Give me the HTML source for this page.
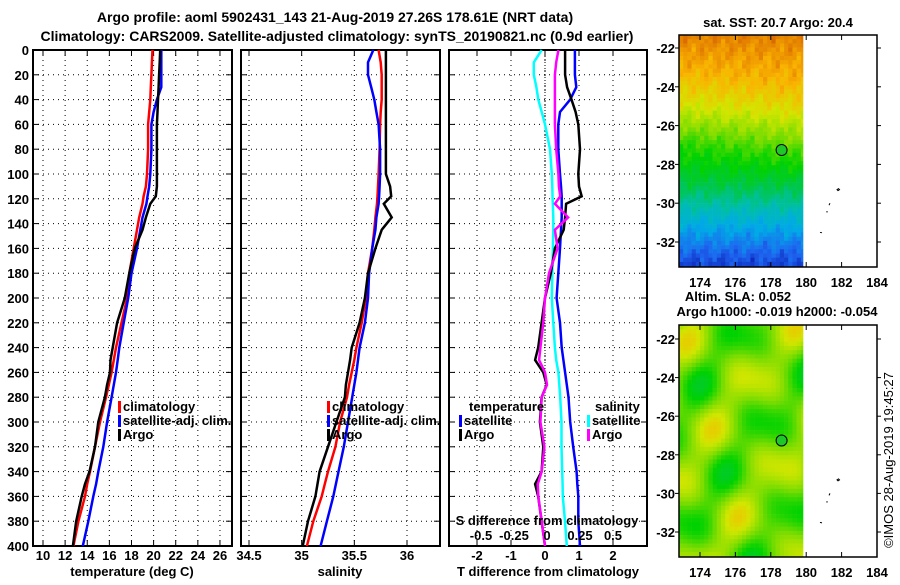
<!DOCTYPE html>
<html><head><meta charset="utf-8"><style>
body{margin:0;background:#fff;width:900px;height:580px;overflow:hidden}
svg{font-family:"Liberation Sans",sans-serif;font-weight:bold}
</style></head><body>
<svg id="s" width="900" height="580"></svg>
<script>
// ---- data ----
const depthsT=[0,10,20,30,40,50,60,80,100,110,118,124,135,145,160,180,200,220,240,250,260,270,280,300,320,340,350,360,380,400];
const tempClim=[19.9,19.85,19.8,19.75,19.7,19.6,19.5,19.5,19.4,19.3,19.1,19.0,18.7,18.5,18.2,17.8,17.6,17.1,16.6,16.4,16.2,15.95,15.7,15.15,14.7,14.25,14.0,13.8,13.2,12.75];
const tempSat=[20.7,20.7,20.7,20.7,20.3,20.0,19.8,19.8,19.7,19.6,19.45,19.35,19.0,18.8,18.5,18.0,17.7,17.3,16.9,16.75,16.6,16.4,16.2,15.8,15.45,15.0,14.8,14.55,14.1,13.6];
const tempArgo=[20.6,20.55,20.5,20.45,20.4,20.35,20.3,20.3,20.3,20.3,20.2,19.7,19.3,19.0,18.3,17.8,17.4,16.7,16.3,16.1,16.06,15.8,15.6,15.0,14.7,14.2,13.8,13.5,13.0,12.7];
const salClim=[35.73,35.75,35.76,35.76,35.76,35.75,35.745,35.74,35.73,35.725,35.72,35.715,35.70,35.69,35.67,35.63,35.61,35.57,35.52,35.50,35.475,35.45,35.43,35.365,35.32,35.25,35.22,35.19,35.11,35.05];
const salSat=[35.68,35.63,35.63,35.66,35.69,35.71,35.73,35.745,35.745,35.74,35.735,35.73,35.71,35.70,35.67,35.64,35.63,35.6,35.55,35.535,35.52,35.50,35.48,35.44,35.4,35.35,35.325,35.3,35.24,35.18];
const salArgo=[35.80,35.80,35.80,35.80,35.80,35.80,35.80,35.80,35.80,35.84,35.85,35.78,35.855,35.76,35.70,35.63,35.6,35.55,35.475,35.46,35.44,35.42,35.41,35.33,35.25,35.17,35.15,35.13,35.06,35.01];
const dTsat=[0.88,0.88,0.88,0.92,0.74,0.44,0.39,0.39,0.44,0.47,0.49,0.49,0.49,0.47,0.44,0.39,0.34,0.44,0.49,0.54,0.59,0.64,0.69,0.74,0.83,0.93,0.95,0.98,0.98,1.03];
const dTargo=[0.59,0.59,0.59,0.65,0.78,0.9,0.98,1.03,0.98,1.0,1.08,0.62,0.59,0.55,0.29,0.17,0.0,-0.1,-0.2,-0.29,-0.05,0.05,-0.1,-0.15,-0.05,-0.1,-0.29,-0.2,-0.1,0.0];
const dSargo=[0.086,0.07,0.06,0.06,0.06,0.06,0.06,0.07,0.086,0.09,0.1,0.06,0.16,0.06,0.08,0.015,-0.015,-0.028,-0.05,-0.06,-0.015,0.0,-0.04,-0.05,-0.02,-0.04,-0.07,-0.066,-0.04,-0.015];
const dSsat=[-0.04,-0.10,-0.10,-0.08,-0.066,-0.04,-0.015,0.023,0.036,0.04,0.042,0.044,0.048,0.048,0.045,0.04,0.036,0.048,0.06,0.07,0.086,0.093,0.1,0.11,0.11,0.115,0.118,0.12,0.136,0.15];
const yTicks=[0,20,40,60,80,100,120,140,160,180,200,220,240,260,280,300,320,340,360,380,400];
const tTicks=[10,12,14,16,18,20,22,24,26];
const sTicks=[34.5,35,35.5,36];
const dtTicks=[-2,-1,0,1,2];
const dsTicks=[-0.5,-0.25,0,0.25,0.5];
const lonTicks=[174,176,178,180,182,184];
const latTicks=[-22,-24,-26,-28,-30,-32];
const argoLon=178.61, argoLat=-27.26;
// SST colour index vs fraction of map height
const sstW=[0,0.15,0.31,0.45,0.56,0.72,0.81,0.93,1];
const sstV=[0.87,0.8,0.7,0.6,0.5,0.33,0.23,0.12,0.07];

const NS="http://www.w3.org/2000/svg";
const svg=document.getElementById('s');
function el(t,a,p){const e=document.createElementNS(NS,t);for(const k in a)e.setAttribute(k,a[k]);(p||svg).appendChild(e);return e;}
function txt(x,y,s,o){o=o||{};const e=el('text',{x:x,y:y,'font-size':o.fs||13,'text-anchor':o.a||'middle',fill:o.c||'#000'});if(o.tr)e.setAttribute('transform',o.tr);e.textContent=s;return e;}

const Y0=50,Y1=546;
const yS=d=>Y0+(d/400)*(Y1-Y0);
const xT=v=>43+(v-10)*11.06;
const xS=v=>249+(v-34.5)*105.33;
const xDT=v=>545+v*34;
const xDS=v=>547+v*132;

let t=txt(335,22,'Argo profile: aoml 5902431_143 21-Aug-2019 27.26S 178.61E (NRT data)',{fs:14});

t=txt(337,41,'Climatology: CARS2009. Satellite-adjusted climatology: synTS_20190821.nc (0.9d earlier)',{fs:14});


function panel(name,x0,x1,xf,xticks,grid){
  const g=el('g',{});
  
  
  if(grid){
    xticks.forEach(v=>el('line',{x1:xf(v),x2:xf(v),y1:Y0,y2:Y1,stroke:'#000','stroke-dasharray':'1,4','stroke-width':1},g));
    yTicks.forEach(d=>el('line',{x1:x0,x2:x1,y1:yS(d),y2:yS(d),stroke:'#000','stroke-dasharray':'1,4','stroke-width':1},g));
  }
  yTicks.forEach(d=>{el('line',{x1:x0,x2:x0+6,y1:yS(d),y2:yS(d),stroke:'#000'},g);el('line',{x1:x1-6,x2:x1,y1:yS(d),y2:yS(d),stroke:'#000'},g);});
  xticks.forEach(v=>{el('line',{x1:xf(v),x2:xf(v),y1:Y1-6,y2:Y1,stroke:'#000'},g);el('line',{x1:xf(v),x2:xf(v),y1:Y0,y2:Y0+6,stroke:'#000'},g);});
  el('rect',{x:x0,y:Y0,width:x1-x0,height:Y1-Y0,fill:'none',stroke:'#000','stroke-width':2},g);
  return g;
}
function line(g,xf,vals,col,name){
  const p=vals.map((v,i)=>xf(v).toFixed(1)+','+yS(depthsT[i]).toFixed(1)).join(' ');
  const e=el('polyline',{points:p,fill:'none',stroke:col,'stroke-width':2.5},g);
  
  
}
function legend(x,y,col,s,g){
  el('rect',{x:x-3,y:y-10,width:3,height:12,fill:col},g);
  const e=txt(x+2,y,s,{a:'start'});g.appendChild(e);
}
const p1=panel('temperature-panel',33,232,xT,tTicks,true);
yTicks.forEach(d=>{const e=txt(29,yS(d)+5,String(d),{a:'end'});});
tTicks.forEach(v=>txt(xT(v),560,String(v)));
txt(132,576,'temperature (deg C)');
line(p1,xT,tempClim,'#f00','temp-climatology-line');
line(p1,xT,tempSat,'#00f','temp-satellite-line');
line(p1,xT,tempArgo,'#000','temp-argo-line');
legend(121,411,'#f00','climatology',p1);legend(121,425,'#00f','satellite-adj. clim.',p1);legend(121,439,'#000','Argo',p1);
const p2=panel('salinity-panel',241,440,xS,sTicks,true);
sTicks.forEach(v=>txt(xS(v),560,String(v)));
txt(340,576,'salinity');
line(p2,xS,salClim,'#f00','sal-climatology-line');
line(p2,xS,salSat,'#00f','sal-satellite-line');
line(p2,xS,salArgo,'#000','sal-argo-line');
legend(330,411,'#f00','climatology',p2);legend(330,425,'#00f','satellite-adj. clim.',p2);legend(330,439,'#000','Argo',p2);
const p3=panel('difference-panel',449,647,xDT,dtTicks,true);
el('line',{x1:xDT(0),x2:xDT(0),y1:Y0,y2:Y1,stroke:'#000','stroke-dasharray':'1,2'},p3);
dtTicks.forEach(v=>txt(xDT(v),560,String(v)));
txt(548,576,'T difference from climatology');
dsTicks.forEach(v=>txt(xDS(v),540,String(v)));
txt(547,525,'S difference from climatology');
line(p3,xDS,dSsat,'#0ff','sal-diff-satellite-line');
line(p3,xDT,dTsat,'#00f','temp-diff-satellite-line');
line(p3,xDT,dTargo,'#000','temp-diff-argo-line');
line(p3,xDS,dSargo,'#f0f','sal-diff-argo-line');
txt(469,411,'temperature',{a:'start'});
legend(462,425,'#00f','satellite',p3);legend(462,439,'#000','Argo',p3);
txt(595,411,'salinity',{a:'start'});
legend(590,425,'#0ff','satellite',p3);legend(590,439,'#f0f','Argo',p3);

// maps
const lonX=v=>700+(v-174)*17.7;
const stops=[[0,0,0,150],[0.12,30,100,240],[0.22,0,170,230],[0.32,0,190,170],[0.42,0,200,60],[0.5,0,210,0],[0.6,120,220,0],[0.7,210,230,0],[0.8,250,180,0],[0.9,220,110,0],[1,180,60,0]];
function cmap(v){
  v=Math.max(0,Math.min(1,v));
  for(let i=1;i<stops.length;i++){if(v<=stops[i][0]){const a=stops[i-1],b=stops[i],f=(v-a[0])/(b[0]-a[0]);
    return 'rgb('+[1,2,3].map(k=>Math.round(a[k]+(b[k]-a[k])*f)).join(',')+')';}}
  return 'rgb(180,60,0)';
}
function interp(xs,ys,x){for(let i=1;i<xs.length;i++){if(x<=xs[i]){const f=(x-xs[i-1])/(xs[i]-xs[i-1]);return ys[i-1]+(ys[i]-ys[i-1])*f;}}return ys[ys.length-1];}
function map(name,top,latY,fn,cs){
  const g=el('g',{});
  const x0=679,x1=877,xd=803,bot=top+232;
  for(let y=top;y<bot;y+=cs)for(let x=x0;x<xd;x+=cs){
    el('rect',{x:x,y:y,width:Math.min(cs,xd-x)+0.3,height:Math.min(cs,bot-y)+0.3,fill:cmap(fn((x-x0)/(xd-x0),(y-top)/232))},g);
  }
  el('path',{d:`M837,${latY(-29.3)} l1.5,-1 l1,1 l-1.5,1z M830,${latY(-30.0)} l-1,2 M827,${latY(-30.4)} l0,1.5 M820,${latY(-31.5)} l2,0.5`,stroke:'#000',fill:'none'},g);
  el('circle',{cx:lonX(argoLon),cy:latY(argoLat),r:5.5,fill:'rgb(30,200,40)',stroke:'#000'},g);
  el('rect',{x:x0,y:top,width:x1-x0,height:232,fill:'none',stroke:'#000','stroke-width':1.5},g);
  lonTicks.forEach(v=>{el('line',{x1:lonX(v),x2:lonX(v),y1:bot,y2:bot-5,stroke:'#000'},g);el('line',{x1:lonX(v),x2:lonX(v),y1:top,y2:top+5,stroke:'#000'},g);txt(lonX(v),bot+20,String(v));});
  latTicks.forEach(v=>{el('line',{x1:x0,x2:x0-4,y1:latY(v),y2:latY(v),stroke:'#000'},g);el('line',{x1:x1,x2:x1+4,y1:latY(v),y2:latY(v),stroke:'#000'},g);txt(675,latY(v)+5,String(v),{a:'end'});});
}
const latY1=v=>48+(-22-v)*19.4;
map('sst-map',35,latY1,(u,w)=>{
  const n=0.03*Math.sin(u*40+w*17)*Math.cos(u*13-w*31)+0.02*Math.sin(u*70+w*5)*Math.sin(w*90);
  const ww=w+0.06*(1-u)*Math.exp(-Math.pow((w-0.45)/0.12,2))-0.05*u*Math.exp(-Math.pow((w-0.25)/0.15,2));
  return interp(sstW,sstV,Math.max(0,Math.min(1,ww)))+n;},1000/238);
txt(778,27,'sat. SST: 20.7 Argo: 20.4');
txt(738,301,'Altim. SLA: 0.052');
txt(777,316,'Argo h1000: -0.019 h2000: -0.054');
const latY2=v=>339+(-22-v)*19.3;
map('sla-map',325,latY2,(u,w)=>{
  const v=0.6+0.07*Math.sin(u*8+w*12+0.5)+0.05*Math.cos(u*6-w*20+1)+0.03*Math.sin(u*15+w*9);
  return Math.max(0.44,Math.min(0.78,v));},1000/238);
const c=txt(893,460,'©IMOS 28-Aug-2019 19:45:27',{tr:'rotate(-90 893 460)'});
c.setAttribute('font-weight','normal');

</script>
</body></html>
